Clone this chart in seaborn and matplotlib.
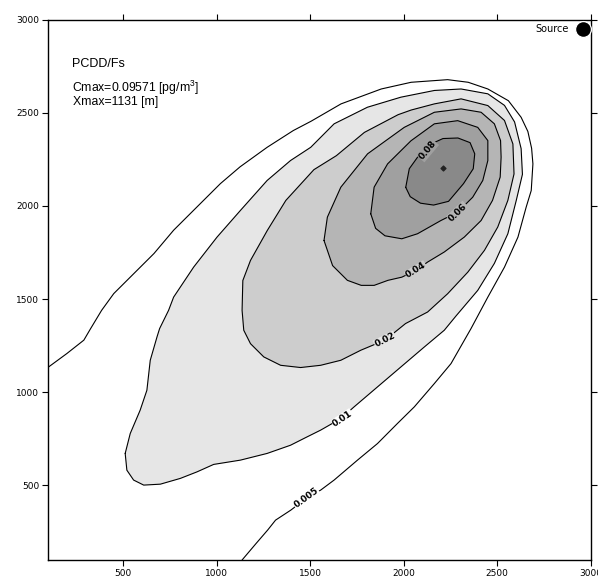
import seaborn as sns
import matplotlib.pyplot as plt

# isolines (x, y in metres), one pair of lists per level
levels = ['0.005', '0.01', '0.02', '0.04', '0.06', '0.08']

c005_x = [100, 199, 290, 325, 385, 450, 575, 665, 770, 895, 1020, 1125, 1270, 1410, 1505, 1665,
          1880, 2040, 2235, 2345, 2450, 2560, 2628, 2664, 2684, 2691, 2682, 2655, 2611, 2539, 2450,
          2360, 2253, 2164, 2057, 1967, 1860, 1753, 1628, 1556, 1480, 1397, 1315, 1273, 1212, 1136]
c005_y = [1135, 1208, 1280, 1340, 1440, 1530, 1655, 1745, 1870, 1995, 2120, 2210, 2315, 2405, 2455, 2548,
          2628, 2664, 2678, 2664, 2628, 2565, 2476, 2400, 2310, 2226, 2083, 1994, 1833, 1672, 1511,
          1342, 1154, 1047, 922, 833, 725, 636, 529, 475, 432, 368, 314, 261, 190, 100]

c01_x = [511, 520, 556, 610, 699, 806, 895, 984, 1127, 1270, 1395, 1476, 1556, 1664, 1735, 1860,
         1985, 2110, 2217, 2280, 2396, 2485, 2557, 2602, 2635, 2628, 2593, 2539, 2450, 2307, 2164,
         1985, 1806, 1628, 1503, 1395, 1270, 1127, 1002, 877, 770, 743, 695, 681, 645, 627, 591, 538, 511]
c01_y = [672, 582, 529, 502, 507, 538, 573, 613, 636, 672, 716, 757, 797, 859, 922, 1029,
         1136, 1243, 1333, 1410, 1547, 1692, 1851, 2030, 2170, 2308, 2451, 2540, 2602, 2628, 2620,
         2584, 2530, 2441, 2315, 2244, 2137, 1976, 1833, 1672, 1511, 1440, 1342, 1297, 1172, 1011, 904, 779, 672]

c02_x = [1449, 1342, 1252, 1181, 1145, 1136, 1140, 1181, 1271, 1370, 1520, 1640, 1790, 1970, 2040,
         2164, 2307, 2450, 2539, 2584, 2590, 2557, 2503, 2432, 2343, 2235, 2128, 2010, 1900, 1771,
         1664, 1556, 1449]
c02_y = [1133, 1145, 1190, 1261, 1333, 1440, 1600, 1708, 1869, 2030, 2195, 2270, 2395, 2490, 2515,
         2548, 2575, 2539, 2459, 2333, 2172, 2030, 1887, 1762, 1645, 1529, 1431, 1369, 1280, 1226,
         1172, 1145, 1133]

c04_x = [1574, 1592, 1664, 1807, 2003, 2164, 2307, 2414, 2485, 2518, 2521, 2516, 2475, 2414, 2324,
         2217, 2128, 2066, 1990, 1916, 1842, 1773, 1699, 1620, 1574]
c04_y = [1815, 1940, 2101, 2280, 2422, 2503, 2521, 2503, 2441, 2351, 2262, 2155, 2030, 1922, 1833,
         1753, 1699, 1654, 1618, 1601, 1574, 1574, 1601, 1680, 1815]

c06_x = [1824, 1842, 1914, 2039, 2164, 2289, 2396, 2450, 2450, 2423, 2369, 2289, 2199, 2074, 1990,
         1900, 1850, 1824]
c06_y = [1958, 2101, 2226, 2350, 2441, 2458, 2422, 2351, 2244, 2137, 2047, 1967, 1922, 1851, 1824,
         1840, 1880, 1958]

c08_x = [2011, 2030, 2080, 2140, 2210, 2290, 2355, 2380, 2372, 2320, 2240, 2160, 2090, 2035, 2011]
c08_y = [2100, 2200, 2270, 2330, 2362, 2365, 2340, 2280, 2200, 2120, 2025, 2005, 2015, 2050, 2100]

# label positions on the lines and their slope
label_x = [1480, 1673, 1900, 2066, 2289, 2130]
label_y = [432, 859, 1280, 1654, 1967, 2298]
label_rot = [36, 34, 27, 32, 44, 50]

peak_x, peak_y = [2212], [2205]
source_x, source_y = [2960], [2950]

ticks = [500, 1000, 1500, 2000, 2500, 3000]

band_colors = ['#ffffff', '#e6e6e6', '#cdcdcd', '#b5b5b5', '#a0a0a0', '#898989']
label_bg = ['#ffffff', '#ffffff', '#e6e6e6', '#cdcdcd', '#b5b5b5', '#a0a0a0']

sns.set_style('ticks')
plt.rcParams['font.family'] = ['DejaVu Sans']
plt.rcParams['mathtext.default'] = 'regular'
plt.rcParams['text.color'] = 'black'
plt.rcParams['xtick.color'] = 'black'
plt.rcParams['ytick.color'] = 'black'

fig = plt.figure(figsize=(5.98, 5.82), dpi=100)
ax = fig.add_axes([0.0808, 0.0378, 0.9070, 0.9284])

closed = [(c01_x, c01_y), (c02_x, c02_y), (c04_x, c04_y), (c06_x, c06_y), (c08_x, c08_y)]
for i, (xs, ys) in enumerate(closed):
    ax.fill(xs, ys, color=band_colors[i + 1], lw=0, zorder=1 + i)
    sns.lineplot(x=xs, y=ys, sort=False, estimator=None, color='black', lw=0.8, ax=ax, zorder=1.5 + i)

sns.lineplot(x=c005_x, y=c005_y, sort=False, estimator=None, color='black', lw=0.8, ax=ax, zorder=1.5)

for lab, lx, ly, rot, bg in zip(levels, label_x, label_y, label_rot, label_bg):
    ax.text(lx, ly, lab, rotation=rot, rotation_mode='anchor', ha='center', va='center',
            fontsize=6.5, fontweight='bold', zorder=10,
            bbox=dict(boxstyle='square,pad=0.05', fc=bg, ec='none'))

ax.scatter(peak_x, peak_y, marker='D', s=6, color='#222222', zorder=11)
sns.scatterplot(x=source_x, y=source_y, s=130, color='black', ax=ax, zorder=12, clip_on=False, legend=False)
ax.text(2880, 2948, 'Source', ha='right', va='center', fontsize=7)

ax.text(225, 2745, 'PCDD/Fs', fontsize=9, family='Liberation Sans', va='baseline')
ax.text(225, 2614, r'Cmax=0.09571 [pg/m$^3$]', fontsize=8.8, family='Liberation Sans', va='baseline')
ax.text(230, 2540, 'Xmax=1131 [m]', fontsize=8.8, family='Liberation Sans', va='baseline')

ax.set_xlim(100, 3000)
ax.set_ylim(100, 3000)
ax.set_xticks(ticks)
ax.set_yticks(ticks)
ax.set_xticklabels([str(t) for t in ticks])
ax.set_yticklabels([str(t) for t in ticks])
ax.set_xlabel('')
ax.set_ylabel('')
ax.tick_params(direction='out', length=4.5, width=0.8, labelsize=6.5, pad=2,
               top=True, right=True, labeltop=False, labelright=False)
for sp in ax.spines.values():
    sp.set_visible(True)
    sp.set_linewidth(1.0)
    sp.set_color('black')

fig.savefig('out.png', dpi=100)
